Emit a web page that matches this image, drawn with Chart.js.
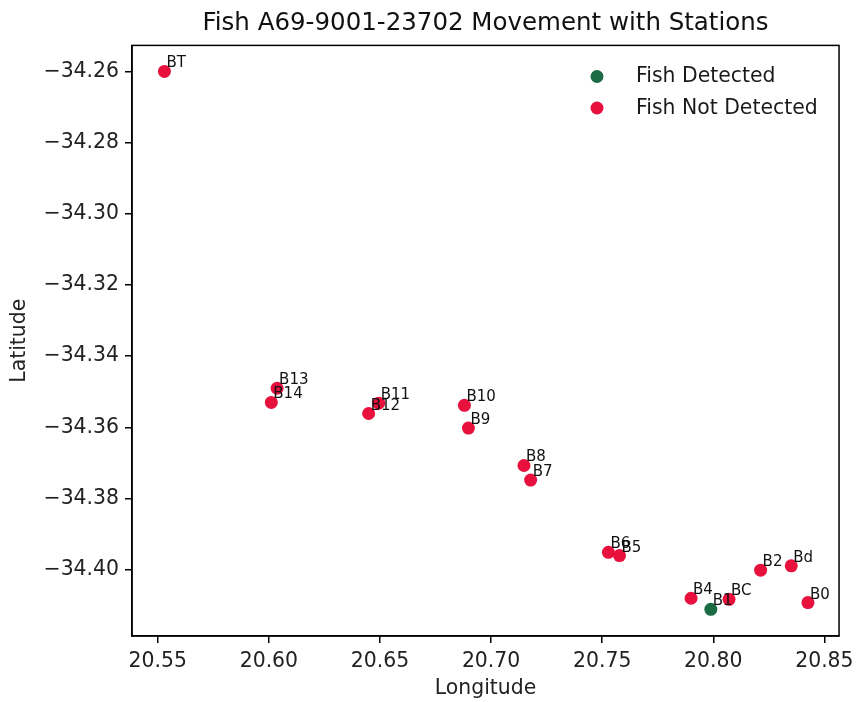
<!DOCTYPE html>
<html><head><meta charset="utf-8">
<script src="https://cdn.jsdelivr.net/npm/chart.js@4"></script>
<style>html,body{margin:0;padding:0;background:#fff}#wrap{width:860px;height:702px}</style>
</head><body><div id="wrap"><canvas id="c" width="860" height="702"></canvas></div>
<script>
const stationNames = ['BT','B13','B14','B11','B12','B10','B9','B8','B7','B6','B5','B4','B1','BC','B2','Bd','B0'];
const longitudes = [20.5530,20.6037,20.6011,20.6494,20.6449,20.6880,20.6898,20.7148,20.7178,20.7528,20.7578,20.7900,20.7989,20.8071,20.8213,20.8351,20.8426];
const latitudes  = [-34.2600,-34.3490,-34.3530,-34.3532,-34.3561,-34.3538,-34.3602,-34.3707,-34.3748,-34.3951,-34.3960,-34.4080,-34.4111,-34.4083,-34.4001,-34.3989,-34.4092];
const detected   = [0,0,0,0,0,0,0,0,0,0,0,0,1,0,0,0,0];
const seriesNames = ['Fish Detected','Fish Not Detected'];
const xTicks = [20.55,20.60,20.65,20.70,20.75,20.80,20.85];
const yTicks = [-34.26,-34.28,-34.30,-34.32,-34.34,-34.36,-34.38,-34.40];
const xRange = [20.5384, 20.8566];
const yRange = [-34.4186, -34.2527];

const GREEN = '#1b6b45', RED = '#e8103c';
const FONT = '"DejaVu Sans", sans-serif';

const detPts = [], notPts = [];
stationNames.forEach((n,i)=>{
  const p = {x: longitudes[i], y: latitudes[i]};
  (detected[i] ? detPts : notPts).push(p);
});

const overlay = {
  id: 'overlay',
  afterDatasetsDraw(chart){
    const {ctx, chartArea:a, scales:{x, y}} = chart;
    ctx.save();
    ctx.strokeStyle = '#000'; ctx.lineWidth = 1.5;
    ctx.strokeRect(a.left, a.top, a.right - a.left, a.bottom - a.top);
    ctx.font = '15px ' + FONT; ctx.fillStyle = '#111';
    ctx.textAlign = 'left'; ctx.textBaseline = 'alphabetic';
    stationNames.forEach((n,i)=>{
      ctx.fillText(n, x.getPixelForValue(longitudes[i]) + 2, y.getPixelForValue(latitudes[i]) - 4);
    });
    // legend
    const items = [[seriesNames[0], GREEN, 76.5], [seriesNames[1], RED, 108]];
    ctx.font = '20.4px ' + FONT; ctx.fillStyle = '#1a1a1a';
    items.forEach(([t,c,yy])=>{
      ctx.beginPath(); ctx.fillStyle = c; ctx.arc(597, yy, 6.5, 0, Math.PI*2); ctx.fill();
      ctx.fillStyle = '#1a1a1a'; ctx.fillText(t, 636, yy + 5.5);
    });
    ctx.restore();
  }
};

const axisCommon = {
  type: 'linear',
  grid: {display: true, drawOnChartArea: false, drawTicks: true, tickLength: 7, color: '#000', lineWidth: 1.5},
  border: {display: true, color: '#000', width: 1.5},
};

new Chart(document.getElementById('c'), {
  type: 'scatter',
  data: {
    datasets: [
      {label: seriesNames[0], data: detPts, backgroundColor: GREEN, borderWidth: 0, pointRadius: 6.5, pointHoverRadius: 6.5},
      {label: seriesNames[1], data: notPts, backgroundColor: RED, borderWidth: 0, pointRadius: 6.5, pointHoverRadius: 6.5}
    ]
  },
  options: {
    responsive: false, animation: false, devicePixelRatio: 1,
    layout: {padding: {left: 0, right: 15, top: 0, bottom: 0}},
    plugins: {
      legend: {display: false}, tooltip: {enabled: false},
      title: {display: true, text: 'Fish A69-9001-23702 Movement with Stations', fullSize: false,
        font: {family: FONT, size: 24.5, weight: 'normal'}, color: '#111', padding: {top: 9, bottom: 7}}
    },
    scales: {
      x: Object.assign({}, axisCommon, {
        min: xRange[0], max: xRange[1],
        afterFit(s){ s.height = 66; },
        afterBuildTicks(s){ s.ticks = xTicks.map(v=>({value: v})); },
        ticks: {callback: v => v.toFixed(2), font: {family: FONT, size: 20.4}, color: '#222', padding: 6, maxRotation: 0, autoSkip: false},
        title: {display: true, text: 'Longitude', font: {family: FONT, size: 20.4}, color: '#222', padding: {top: 0, bottom: 1}}
      }),
      y: Object.assign({}, axisCommon, {
        min: yRange[0], max: yRange[1],
        afterFit(s){ s.width = 132; },
        afterBuildTicks(s){ s.ticks = yTicks.map(v=>({value: v})); },
        ticks: {callback: v => '\u2212' + Math.abs(v).toFixed(2), font: {family: FONT, size: 20.4}, color: '#222', padding: 6, autoSkip: false},
        title: {display: true, text: 'Latitude', font: {family: FONT, size: 20.4}, color: '#222', padding: {top: 7, bottom: 0}}
      })
    }
  },
  plugins: [overlay]
});
</script></body></html>
